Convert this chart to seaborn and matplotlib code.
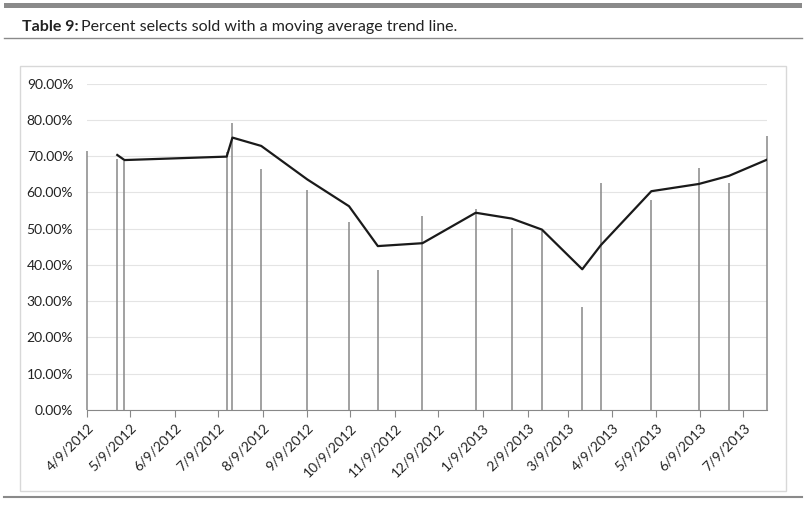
import numpy as np
import pandas as pd
import matplotlib
matplotlib.use("Agg")
import matplotlib.pyplot as plt
import matplotlib.dates as mdates
from matplotlib.ticker import PercentFormatter
from matplotlib.patches import Rectangle
import seaborn as sns

# ── Data ───────────────────────────────────────────────────────────────
DATES = ["2012-04-09", "2012-04-30", "2012-05-05", "2012-07-15", "2012-07-19",
         "2012-08-08", "2012-09-09", "2012-10-08", "2012-10-28", "2012-11-28",
         "2013-01-04", "2013-01-29", "2013-02-19", "2013-03-19", "2013-04-01",
         "2013-05-06", "2013-06-08", "2013-06-29", "2013-07-25"]
PCT_SOLD = [71.4, 69.3, 68.6, 71.2, 79.1, 66.6, 60.6, 51.8, 38.6, 53.4,
            55.4, 50.2, 49.3, 28.3, 62.7, 58.0, 66.7, 62.5, 75.5]
TICK_DATES = ["2012-04-09", "2012-05-09", "2012-06-09", "2012-07-09", "2012-08-09",
              "2012-09-09", "2012-10-09", "2012-11-09", "2012-12-09", "2013-01-09",
              "2013-02-09", "2013-03-09", "2013-04-09", "2013-05-09", "2013-06-09",
              "2013-07-09"]
Y_TICKS = [0, 10, 20, 30, 40, 50, 60, 70, 80, 90]

df = pd.DataFrame({"date": pd.to_datetime(DATES), "pct": PCT_SOLD})
df["ma"] = df["pct"].rolling(2).mean()
ticks = pd.to_datetime(TICK_DATES)

FONT = "Lato"
fig = plt.figure(figsize=(8.06, 5.11), dpi=100)
fig.patch.set_facecolor("white")

# frame decorations
fig.add_artist(Rectangle((0.005, 0.985), 0.99, 0.01, transform=fig.transFigure,
                         color="#8a8a8a", lw=0))
fig.add_artist(plt.Line2D([0.005, 0.995], [0.925, 0.925], color="#8a8a8a", lw=1))
fig.add_artist(plt.Line2D([0.005, 0.995], [0.027, 0.027], color="#8a8a8a", lw=1.5))
fig.add_artist(Rectangle((0.025, 0.04), 0.95, 0.83, transform=fig.transFigure,
                         fill=False, ec="#d8d8d8", lw=1))
fig.text(0.027, 0.94, "Table 9:", fontsize=11.5, fontweight="bold",
         fontfamily=FONT, color="#222222")
fig.text(0.101, 0.94, "Percent selects sold with a moving average trend line.",
         fontsize=11.5, fontfamily=FONT, color="#222222")

ax = fig.add_axes([0.108, 0.198, 0.843, 0.638])
ax.vlines(df["date"], 0, df["pct"], color="#888888", lw=1.1, clip_on=False)
sns.lineplot(data=df.dropna(), x="date", y="ma", color="#1a1a1a", lw=1.6, ax=ax)

ax.set_ylim(0, 90)
ax.set_yticks(Y_TICKS)
ax.yaxis.set_major_formatter(PercentFormatter(decimals=2))
ax.set_xlim(df["date"].iloc[0], df["date"].iloc[-1])
ax.set_xticks(ticks)
ax.xaxis.set_major_formatter(mdates.DateFormatter("%-m/%-d/%Y"))
for lab in ax.get_xticklabels():
    lab.set_rotation(45); lab.set_ha("right"); lab.set_rotation_mode("anchor")
ax.tick_params(axis="y", length=0, labelsize=10, colors="#222222", pad=10)
ax.tick_params(axis="x", length=5, direction="out", color="#888888",
               labelsize=10, labelcolor="#222222")
for lab in ax.get_xticklabels() + ax.get_yticklabels():
    lab.set_fontfamily(FONT)
ax.grid(axis="y", color="#e4e4e4", lw=0.8)
ax.set_axisbelow(True)
for s in ["top", "right", "left"]:
    ax.spines[s].set_visible(False)
ax.spines["bottom"].set_color("#888888")
ax.set_xlabel(""); ax.set_ylabel("")

plt.savefig("out.png", dpi=100, facecolor="white")
